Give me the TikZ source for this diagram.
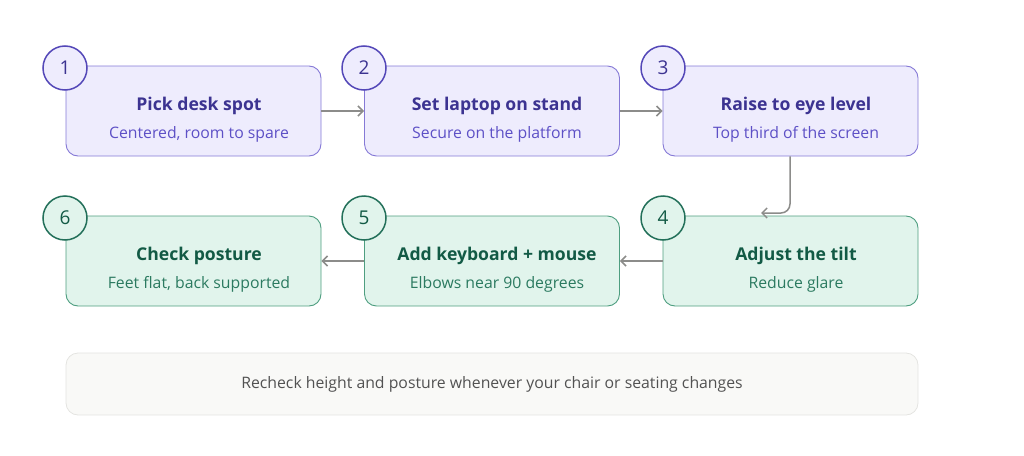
\documentclass[tikz,border=0pt]{standalone}
\usepackage{fontspec}
\setmainfont{Open Sans}
\usetikzlibrary{arrows.meta}

\definecolor{pfill}{HTML}{EEECFD}
\definecolor{pdraw}{HTML}{8579D6}
\definecolor{pring}{HTML}{5448B8}
\definecolor{ptitle}{HTML}{3C3391}
\definecolor{psub}{HTML}{5D50C6}
\definecolor{gfill}{HTML}{E1F4EC}
\definecolor{gdraw}{HTML}{4E9E80}
\definecolor{gring}{HTML}{23705A}
\definecolor{gtitle}{HTML}{125A45}
\definecolor{gsub}{HTML}{2B7A60}
\definecolor{notefill}{HTML}{F9F9F7}
\definecolor{notedraw}{HTML}{E4E4E1}
\definecolor{flow}{HTML}{8C8C8A}

\tikzset{
  card/.style={draw, line width=0.9pt, rounded corners=12pt, minimum width=255pt, minimum height=90pt},
  purplecard/.style={card, fill=pfill, draw=pdraw},
  greencard/.style={card, fill=gfill, draw=gdraw},
  badge/.style={circle, line width=1.5pt, minimum size=44pt, inner sep=0pt, font=\fontsize{19}{19}\selectfont},
  purplebadge/.style={badge, fill=pfill, draw=pring, text=ptitle},
  greenbadge/.style={badge, fill=gfill, draw=gring, text=gtitle},
  cardtitle/.style={font=\fontsize{17.6}{17.6}\selectfont\bfseries},
  cardsub/.style={font=\fontsize{15.8}{15.8}\selectfont},
  flowline/.style={draw=flow, line width=1.5pt, -{Straight Barb[length=5pt,width=10pt]}},
}

\begin{document}
\begin{tikzpicture}[x=1pt, y=-1pt]
    \useasboundingbox (0,0) rectangle (1024,455);

    % top row
    \node[purplecard] (c1) at (193.5,111) {};
    \node[purplecard] (c2) at (492,111) {};
    \node[purplecard] (c3) at (790.5,111) {};
    \node[cardtitle, text=ptitle] (t1) at (199,106) {Pick desk spot};
    \node[cardsub, text=psub] (s1) at (199,134) {Centered, room to spare};
    \node[cardtitle, text=ptitle] (t2) at (497,106) {Set laptop on stand};
    \node[cardsub, text=psub] (s2) at (497,134) {Secure on the platform};
    \node[cardtitle, text=ptitle] (t3) at (796,106) {Raise to eye level};
    \node[cardsub, text=psub] (s3) at (796,134) {Top third of the screen};

    % bottom row
    \node[greencard] (c6) at (193.5,261) {};
    \node[greencard] (c5) at (492,261) {};
    \node[greencard] (c4) at (790.5,261) {};
    \node[cardtitle, text=gtitle] (t6) at (199,256) {Check posture};
    \node[cardsub, text=gsub] (s6) at (199,284) {Feet flat, back supported};
    \node[cardtitle, text=gtitle] (t5) at (497,256) {Add keyboard + mouse};
    \node[cardsub, text=gsub] (s5) at (497,284) {Elbows near 90 degrees};
    \node[cardtitle, text=gtitle] (t4) at (796,256) {Adjust the tilt};
    \node[cardsub, text=gsub] (s4) at (796,284) {Reduce glare};

    % numbers
    \node[purplebadge] (n1) at (65,68) {1};
    \node[purplebadge] (n2) at (364,68) {2};
    \node[purplebadge] (n3) at (663,68) {3};
    \node[greenbadge] (n4) at (663,218) {4};
    \node[greenbadge] (n5) at (364,218) {5};
    \node[greenbadge] (n6) at (65,218) {6};

    % flow
    \coordinate (bend) at (790,213);
    \coordinate (drop) at (761,213);
    \draw[flowline] (c1.east) -- (c2.west);
    \draw[flowline] (c2.east) -- (c3.west);
    \draw[flowline, rounded corners=9pt] (c3.south -| bend) |- (drop);
    \draw[flowline] (c4.west) -- (c5.east);
    \draw[flowline] (c5.west) -- (c6.east);

    % note
    \node[draw=notedraw, fill=notefill, line width=0.8pt, rounded corners=12pt, minimum width=852pt, minimum height=62pt,
          text=black!68, font=\fontsize{15.8}{15.8}\selectfont] (note) at (492,384) {Recheck height and posture whenever your chair or seating changes};
\end{tikzpicture}
\end{document}
